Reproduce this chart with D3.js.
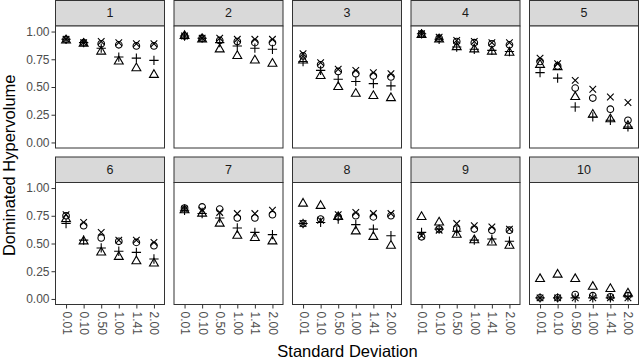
<!DOCTYPE html>
<html>
<head>
<meta charset="utf-8">
<script src="https://cdn.jsdelivr.net/npm/d3@7"></script>
<style>
  body { margin: 0; background: #fff; }
  svg { display: block; font-family: "Liberation Sans", Arial, Helvetica, sans-serif; }
</style>
</head>
<body>
<svg id="chart" width="640" height="358"></svg>
<script>
// x categories (standard deviation), facet labels and y ticks
const sdLevels = ["0.01", "0.10", "0.50", "1.00", "1.41", "2.00"];
const panelIds = ["1", "2", "3", "4", "5", "6", "7", "8", "9", "10"];
const yTicks = [0, 0.25, 0.5, 0.75, 1];

// dominated hypervolume, one row per panel, one value per sd level
const circleVals = [
    [0.93, 0.90, 0.89, 0.88, 0.87, 0.87],
    [0.96, 0.94, 0.92, 0.91, 0.90, 0.90],
    [0.78, 0.70, 0.64, 0.62, 0.60, 0.59],
    [0.98, 0.94, 0.91, 0.90, 0.89, 0.88],
    [0.73, 0.69, 0.49, 0.40, 0.30, 0.20],
    [0.75, 0.66, 0.55, 0.52, 0.51, 0.48],
    [0.82, 0.83, 0.81, 0.73, 0.73, 0.76],
    [0.68, 0.72, 0.74, 0.75, 0.74, 0.75],
    [0.56, 0.63, 0.63, 0.63, 0.62, 0.62],
    [0.01, 0.01, 0.04, 0.03, 0.02, 0.03]
];
const triangleVals = [
    [0.92, 0.89, 0.82, 0.73, 0.67, 0.61],
    [0.96, 0.93, 0.84, 0.78, 0.74, 0.71],
    [0.74, 0.60, 0.50, 0.44, 0.42, 0.40],
    [0.97, 0.93, 0.86, 0.84, 0.82, 0.81],
    [0.70, 0.68, 0.41, 0.25, 0.21, 0.15],
    [0.72, 0.52, 0.42, 0.38, 0.34, 0.32],
    [0.80, 0.77, 0.68, 0.57, 0.55, 0.52],
    [0.86, 0.84, 0.74, 0.61, 0.56, 0.48],
    [0.74, 0.69, 0.58, 0.53, 0.51, 0.48],
    [0.18, 0.22, 0.18, 0.11, 0.09, 0.05]
];
const plusVals = [
    [0.93, 0.90, 0.85, 0.77, 0.76, 0.74],
    [0.96, 0.94, 0.90, 0.87, 0.85, 0.84],
    [0.73, 0.65, 0.57, 0.55, 0.53, 0.51],
    [0.98, 0.93, 0.86, 0.84, 0.83, 0.82],
    [0.63, 0.58, 0.32, 0.23, 0.20, 0.14],
    [0.68, 0.53, 0.46, 0.43, 0.42, 0.36],
    [0.80, 0.77, 0.73, 0.64, 0.60, 0.58],
    [0.68, 0.69, 0.72, 0.67, 0.63, 0.57],
    [0.60, 0.63, 0.61, 0.53, 0.54, 0.52],
    [0.01, 0.01, 0.01, 0.01, 0.01, 0.02]
];
const crossVals = [
    [0.93, 0.90, 0.91, 0.90, 0.89, 0.89],
    [0.96, 0.94, 0.94, 0.93, 0.93, 0.93],
    [0.80, 0.72, 0.66, 0.65, 0.63, 0.62],
    [0.98, 0.95, 0.92, 0.91, 0.90, 0.90],
    [0.76, 0.71, 0.56, 0.48, 0.41, 0.36],
    [0.76, 0.69, 0.60, 0.53, 0.53, 0.51],
    [0.81, 0.80, 0.78, 0.77, 0.77, 0.80],
    [0.68, 0.71, 0.76, 0.78, 0.77, 0.77],
    [0.57, 0.62, 0.68, 0.66, 0.65, 0.63],
    [0.01, 0.01, 0.01, 0.01, 0.01, 0.01]
];

// layout of the facet grid
const PANEL_W = 109, COL_STEP = 118.5, LEFT = 56;
const STRIP_H = 25.5, PANEL_H = 122;
const ROW_TOPS = [0.5, 157];
const N_COLS = 5;
const SHAPE_SIZE = 8.8;   // roughly the R pch "size" in pixels

// open shapes like R pch 1-4
const shapePath = {
    circle: function(s){
        let p = d3.path();
        p.arc(0, 0, 0.375 * s, 0, 2 * Math.PI);
        return p.toString();
    },
    triangle: function(s){
        let t = 0.583 * s, b = 0.292 * s, h = 0.505 * s;
        return `M0,${-t}L${h},${b}L${-h},${b}Z`;
    },
    plus: function(s){
        let a = 0.53 * s;
        return `M${-a},0H${a}M0,${-a}V${a}`;
    },
    cross: function(s){
        let a = 0.375 * s;
        return `M${-a},${-a}L${a},${a}M${-a},${a}L${a},${-a}`;
    }
};
const series = [
    {shape: "circle", values: circleVals},
    {shape: "triangle", values: triangleVals},
    {shape: "plus", values: plusVals},
    {shape: "cross", values: crossVals}
];

const svg = d3.select("#chart");

const x = d3.scalePoint()
    .domain(sdLevels)
    .range([0, PANEL_W])
    .padding(0.6);

const y = d3.scaleLinear()
    .domain([-0.05, 1.05])
    .range([PANEL_H, 0]);

panelIds.forEach(function(id, p){
    let col = p % N_COLS, row = Math.floor(p / N_COLS);
    let x0 = LEFT + col * COL_STEP - 0.5;
    let y0 = ROW_TOPS[row];

    let g = svg.append("g")
        .attr("transform", `translate(${x0},${y0})`);

    // strip
    g.append("rect")
        .attr("width", PANEL_W)
        .attr("height", STRIP_H)
        .style("fill", "#d9d9d9")
        .style("stroke", "#333")
        .style("stroke-width", 1);
    g.append("text")
        .attr("x", PANEL_W / 2)
        .attr("y", STRIP_H / 2)
        .attr("dominant-baseline", "central")
        .style("text-anchor", "middle")
        .style("font-size", "12.5px")
        .style("fill", "#1a1a1a")
        .text(id);

    let body = g.append("g")
        .attr("transform", `translate(0,${STRIP_H})`);

    body.append("rect")
        .attr("width", PANEL_W)
        .attr("height", PANEL_H)
        .style("fill", "#fff");

    // points, one group per series
    series.forEach(function(s){
        body.append("g")
            .selectAll("path")
            .data(s.values[p])
            .enter()
            .append("path")
            .attr("transform", function(d, i){
                return `translate(${x(sdLevels[i])},${y(d)})`;
            })
            .attr("d", shapePath[s.shape](SHAPE_SIZE))
            .style("fill", "none")
            .style("stroke", "#000")
            .style("stroke-width", 1.1);
    });

    body.append("rect")
        .attr("width", PANEL_W)
        .attr("height", PANEL_H)
        .style("fill", "none")
        .style("stroke", "#333")
        .style("stroke-width", 1);

    // y axis on the first column
    if (col === 0){
        let ya = body.append("g")
            .call(d3.axisLeft(y).tickValues(yTicks).tickFormat(d3.format(".2f")).tickSize(4).tickPadding(2));
        ya.select(".domain").remove();
        ya.selectAll("line").style("stroke", "#333");
        ya.selectAll("text")
            .style("fill", "#4d4d4d")
            .style("font-size", "12px")
            .style("font-family", "inherit");
    }

    // x axis on the bottom row
    if (row === 1){
        let xa = body.append("g")
            .attr("transform", `translate(0,${PANEL_H})`)
            .call(d3.axisBottom(x).tickSize(4));
        xa.select(".domain").remove();
        xa.selectAll("line").style("stroke", "#333");
        xa.selectAll("text")
            .attr("transform", "rotate(90)")
            .attr("x", 7)
            .attr("y", 0)
            .attr("dy", null)
            .attr("dominant-baseline", "central")
            .style("text-anchor", "start")
            .style("fill", "#4d4d4d")
            .style("font-size", "12px")
            .style("font-family", "inherit");
    }
});

// axis titles
svg.append("text")
    .attr("x", LEFT + (N_COLS * COL_STEP - (COL_STEP - PANEL_W)) / 2)
    .attr("y", 356.5)
    .style("text-anchor", "middle")
    .style("font-size", "16.5px")
    .style("fill", "#000")
    .text("Standard Deviation");

svg.append("text")
    .attr("transform", `translate(15,${(ROW_TOPS[0] + STRIP_H + ROW_TOPS[1] + STRIP_H + PANEL_H) / 2}) rotate(-90)`)
    .style("text-anchor", "middle")
    .style("font-size", "16.5px")
    .style("fill", "#000")
    .text("Dominated Hypervolume");
</script>
</body>
</html>
